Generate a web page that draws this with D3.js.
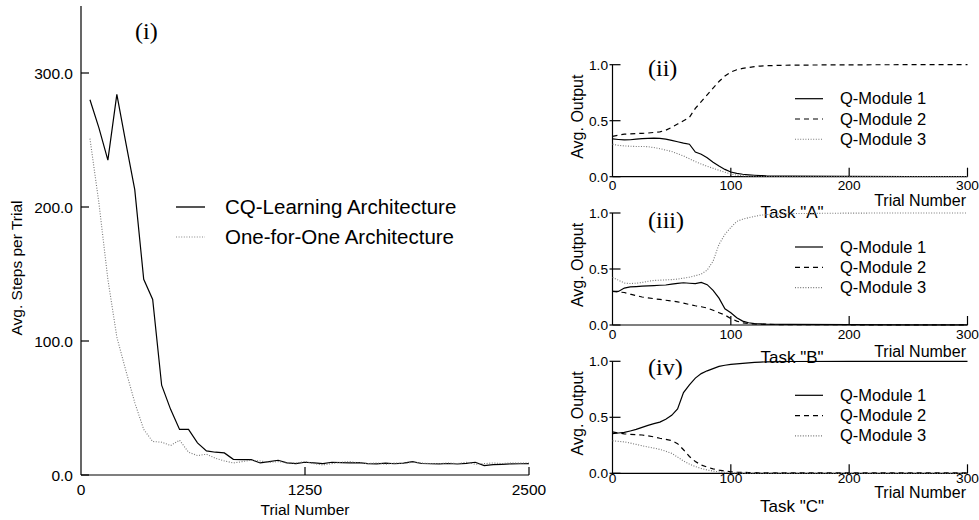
<!DOCTYPE html>
<html>
<head>
<meta charset="utf-8">
<script src="https://cdn.jsdelivr.net/npm/d3@7"></script>
<style>
  body { margin: 0; background: #fff; }
  svg { display: block; font-family: "Liberation Sans", Arial, sans-serif; }
  .axis-line { stroke: #000; stroke-width: 1.2; fill: none; }
  .serif { font-family: "Liberation Serif", "Times New Roman", serif; }
</style>
</head>
<body>
<svg id="chart" width="979" height="520"></svg>
<script>
// ---- data: panel (i), steps per trial, sampled every 50 trials ----
const bigTrials = d3.range(50, 2501, 50);
const cqSteps = [280, 259, 235, 284, 248, 213, 146, 131, 67, 49,
                 34, 34, 24, 18, 17, 16.5, 11.7, 11.5, 11.5, 9,
                 10, 11, 9, 8.5, 9.5, 9, 8.5, 9.5, 9.3, 9,
                 9.2, 8.5, 8.3, 8.8, 8.4, 8.8, 10, 8.6, 8.4, 8.3,
                 8.6, 8.2, 8.7, 9.5, 7, 7.8, 8, 8.3, 8.4, 8.5];
const oneForOneSteps = [251, 203, 146, 103, 78, 54, 34, 25, 24.5, 22,
                        26, 17, 14.5, 15.5, 12.5, 10.5, 9, 10, 11, 10.5,
                        9.5, 10, 9, 9, 10, 8.5, 7.5, 8.5, 9.5, 10,
                        9, 8.5, 9, 8, 9, 8.5, 9.5, 9, 8.5, 8.5,
                        9, 8.5, 9.5, 8, 8.5, 9, 8.5, 9, 9, 9];
const bigSeriesNames = ["CQ-Learning Architecture", "One-for-One Architecture"];
const bigYTicks = [0, 100, 200, 300];
const bigXTicks = [0, 1250, 2500];

// ---- data: panels (ii)-(iv), average output of each Q-module ----
const trials = [0, 5, 10, 15, 20, 25, 30, 35, 40, 45, 50, 55, 60, 65, 70, 75,
                80, 85, 90, 95, 100, 105, 110, 115, 120, 125, 130, 150, 200, 250, 300];
const moduleNames = ["Q-Module 1", "Q-Module 2", "Q-Module 3"];
const taskNames = ['Task "A"', 'Task "B"', 'Task "C"'];
const panelLabels = ["(ii)", "(iii)", "(iv)"];

const taskA_m1 = [.337, .332, .328, .33, .335, .34, .342, .344, .343, .335, .325, .312, .30, .29, .22, .20,
                  .17, .13, .095, .065, .042, .03, .022, .017, .013, .01, .008, .005, .003, .002, .002];
const taskA_m2 = [.36, .37, .38, .382, .385, .387, .39, .395, .40, .415, .44, .47, .50, .53, .61, .67,
                  .73, .79, .85, .90, .935, .955, .967, .975, .983, .988, .991, .996, .999, 1, 1];
const taskA_m3 = [.29, .28, .275, .272, .27, .27, .268, .26, .25, .238, .225, .205, .185, .16, .135, .113,
                  .093, .075, .057, .04, .025, .013, .008, .005, .003, .002, .002, .001, .001, .001, .001];

const taskB_m1 = [.30, .30, .33, .34, .343, .347, .35, .352, .355, .357, .365, .372, .377, .373, .37, .38,
                  .36, .31, .24, .145, .11, .065, .035, .02, .013, .01, .008, .005, .003, .002, .002];
const taskB_m2 = [.30, .295, .29, .275, .263, .25, .242, .235, .228, .221, .214, .207, .195, .183, .172, .163,
                  .152, .132, .11, .089, .058, .035, .02, .013, .009, .007, .005, .003, .002, .001, .001];
const taskB_m3 = [.425, .40, .375, .37, .373, .38, .39, .398, .40, .403, .405, .41, .418, .427, .44, .455,
                  .49, .57, .72, .81, .87, .925, .945, .958, .97, .98, .986, .995, .999, 1, 1];

const taskC_m1 = [.355, .36, .365, .378, .392, .41, .428, .443, .457, .483, .518, .575, .72, .79, .85, .89,
                  .915, .935, .955, .965, .972, .977, .982, .986, .99, .993, .995, .998, 1, 1, 1];
const taskC_m2 = [.37, .36, .352, .348, .345, .342, .335, .325, .313, .303, .293, .265, .21, .15, .105, .074,
                  .055, .04, .028, .02, .014, .01, .008, .007, .006, .005, .005, .004, .003, .003, .003];
const taskC_m3 = [.29, .285, .28, .27, .258, .246, .235, .225, .213, .197, .178, .145, .11, .082, .06, .043,
                  .03, .02, .012, .008, .005, .003, .002, .002, .002, .002, .002, .001, .001, .001, .001];

const smallYTicks = [0, 0.5, 1];
const smallXTicks = [0, 100, 200, 300];

// line styles per series (solid, dashed, dotted)
const styles = [
    { stroke: "#000", width: 1.2, dash: null },
    { stroke: "#000", width: 1.2, dash: "5,4" },
    { stroke: "#777", width: 1.1, dash: "1,1.6" }
];

const svg = d3.select("#chart");

// ================= panel (i) =================
const bx = d3.scaleLinear().domain([0, 2500]).range([81, 529]);
const by = d3.scaleLinear().domain([0, 350]).range([475, 6]);
const gBig = svg.append("g");

gBig.append("line").attr("class", "axis-line")
    .attr("x1", bx(0)).attr("x2", bx(0)).attr("y1", by(0)).attr("y2", by(350));
gBig.append("line").attr("class", "axis-line")
    .attr("x1", bx(0)).attr("x2", bx(2500)).attr("y1", by(0)).attr("y2", by(0));

bigYTicks.forEach(function (v) {
    gBig.append("line").attr("class", "axis-line")
        .attr("x1", bx(0)).attr("x2", bx(0) + 8).attr("y1", by(v)).attr("y2", by(v));
    gBig.append("text")
        .attr("x", 73).attr("y", by(v)).attr("dy", "0.36em")
        .attr("text-anchor", "end").attr("font-size", 15.5)
        .text(v.toFixed(1));
});
bigXTicks.forEach(function (v) {
    if (v > 0) {
        gBig.append("line").attr("class", "axis-line")
            .attr("x1", bx(v)).attr("x2", bx(v)).attr("y1", by(0)).attr("y2", by(0) - 8);
    }
    gBig.append("text")
        .attr("x", bx(v)).attr("y", 495)
        .attr("text-anchor", "middle").attr("font-size", 15.5)
        .text(v);
});
gBig.append("text")
    .attr("x", bx(1250)).attr("y", 515)
    .attr("text-anchor", "middle").attr("font-size", 15.5)
    .text("Trial Number");
gBig.append("text")
    .attr("transform", "translate(22," + 268 + ") rotate(-90)")
    .attr("text-anchor", "middle").attr("font-size", 15.5)
    .text("Avg. Steps per Trial");
gBig.append("text").attr("class", "serif")
    .attr("x", 135).attr("y", 39).attr("font-size", 24)
    .text("(i)");

const bigLine = d3.line()
    .x((d, i) => bx(bigTrials[i]))
    .y(d => by(d));

[cqSteps, oneForOneSteps].forEach(function (series, k) {
    const s = k === 0 ? styles[0] : styles[2];
    gBig.append("path")
        .attr("d", bigLine(series))
        .attr("fill", "none")
        .attr("stroke", s.stroke)
        .attr("stroke-width", s.width)
        .attr("stroke-dasharray", s.dash);
});

// legend for panel (i)
bigSeriesNames.forEach(function (name, k) {
    const ly = 207 + k * 30;
    gBig.append("line")
        .attr("x1", 176).attr("x2", 205).attr("y1", ly).attr("y2", ly)
        .attr("stroke", k === 0 ? "#555" : "#888")
        .attr("stroke-width", k === 0 ? 2 : 1.2)
        .attr("stroke-dasharray", k === 0 ? null : "1,1.6");
    gBig.append("text")
        .attr("x", 225).attr("y", ly + 6.5)
        .attr("font-size", 20.5)
        .text(name);
});

// ================= panels (ii)-(iv) =================
const panels = [
    { series: [taskA_m1, taskA_m2, taskA_m3], axisY: 176.7, tickY: 13, trialY: 29.5, taskY: 41.5, labelY: 76 },
    { series: [taskB_m1, taskB_m2, taskB_m3], axisY: 325, tickY: 13.5, trialY: 31.5, taskY: 38.3, labelY: 228 },
    { series: [taskC_m1, taskC_m2, taskC_m3], axisY: 473.3, tickY: 9.5, trialY: 25, taskY: 38.6, labelY: 375 }
];

const sx = d3.scaleLinear().domain([0, 300]).range([612.5, 967.5]);

panels.forEach(function (p, pi) {
    const sy = d3.scaleLinear().domain([0, 1]).range([p.axisY, p.axisY - 112]);
    const g = svg.append("g");

    g.append("line").attr("class", "axis-line")
        .attr("x1", sx(0)).attr("x2", sx(0)).attr("y1", sy(0)).attr("y2", sy(1));
    g.append("line").attr("class", "axis-line")
        .attr("x1", sx(0)).attr("x2", sx(300)).attr("y1", sy(0)).attr("y2", sy(0));

    smallYTicks.forEach(function (v) {
        g.append("line").attr("class", "axis-line")
            .attr("x1", sx(0) - 3).attr("x2", sx(0) + 8).attr("y1", sy(v)).attr("y2", sy(v));
        g.append("text")
            .attr("x", 608).attr("y", sy(v)).attr("dy", "0.36em")
            .attr("text-anchor", "end").attr("font-size", 13.7)
            .text(v.toFixed(1));
    });
    smallXTicks.forEach(function (v) {
        if (v > 0) {
            g.append("line").attr("class", "axis-line")
                .attr("x1", sx(v)).attr("x2", sx(v)).attr("y1", sy(0)).attr("y2", sy(0) - 9);
        }
        g.append("text")
            .attr("x", sx(v)).attr("y", p.axisY + p.tickY)
            .attr("text-anchor", "middle").attr("font-size", 13.7)
            .text(v);
    });

    g.append("text")
        .attr("x", 966).attr("y", p.axisY + p.trialY)
        .attr("text-anchor", "end").attr("font-size", 16)
        .text("Trial Number");
    g.append("text")
        .attr("x", 792).attr("y", p.axisY + p.taskY)
        .attr("text-anchor", "middle").attr("font-size", 17)
        .text(taskNames[pi]);
    g.append("text")
        .attr("transform", "translate(583," + (sy(0.5) - 4) + ") rotate(-90)")
        .attr("text-anchor", "middle").attr("font-size", 16)
        .text("Avg. Output");
    g.append("text").attr("class", "serif")
        .attr("x", 648).attr("y", p.labelY).attr("font-size", 24)
        .text(panelLabels[pi]);

    const line = d3.line()
        .x((d, i) => sx(trials[i]))
        .y(d => sy(d));

    p.series.forEach(function (series, k) {
        const s = styles[k];
        g.append("path")
            .attr("d", line(series))
            .attr("fill", "none")
            .attr("stroke", s.stroke)
            .attr("stroke-width", s.width)
            .attr("stroke-dasharray", s.dash);
    });

    // legend
    moduleNames.forEach(function (name, k) {
        const ly = p.axisY - 78 + k * 20.3;
        const s = styles[k];
        g.append("line")
            .attr("x1", 795).attr("x2", 823).attr("y1", ly).attr("y2", ly)
            .attr("stroke", s.stroke)
            .attr("stroke-width", s.width)
            .attr("stroke-dasharray", s.dash);
        g.append("text")
            .attr("x", 840).attr("y", ly + 5.5)
            .attr("font-size", 16.5)
            .text(name);
    });
});
</script>
</body>
</html>
